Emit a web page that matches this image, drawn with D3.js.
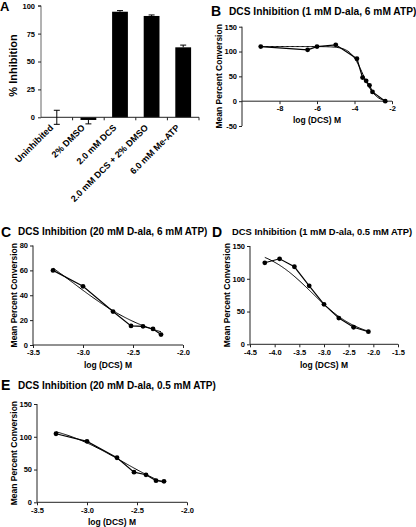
<!DOCTYPE html>
<html>
<head>
<meta charset="utf-8">
<script src="https://cdn.jsdelivr.net/npm/d3@7"></script>
<style>
  html, body { margin: 0; padding: 0; background: #fff; }
  svg { display: block; font-family: "Liberation Sans", Arial, Helvetica, sans-serif; }
  text { font-weight: bold; fill: #000; }
</style>
</head>
<body>
<svg id="chart" width="416" height="527"></svg>
<script>
// ---------- Panel A data ----------
const catsA = ["Uninhibited", "2% DMSO", "2.0 mM DCS", "2.0 mM DCS + 2% DMSO", "6.0 mM Me-ATP"];
const valsA = [0, -2.4, 94.6, 90.8, 62.7];
const errA  = [6.3, 3.5, 1.0, 0.9, 2.0];
const ticksA = [0, 25, 50, 75, 100];

// ---------- Panel B data (1 mM D-ala, 6 mM ATP) ----------
const logB  = [-9, -6.5, -6, -5, -3.87, -3.57, -3.38, -3.2, -3.04, -2.36];
const convB = [110, 103.5, 110, 113.5, 85.5, 47.5, 41, 32, 18.6, 0];
const fitB  = [110, -2, -3.55, 1.3];        // top, bottom, logIC50, hill
const xTicksB = [-8, -6, -4, -2];
const yTicksB = [-50, 0, 50, 100, 150];

// ---------- Panel C data (20 mM D-ala, 6 mM ATP) ----------
const logC  = [-3.30, -3.0, -2.70, -2.52, -2.40, -2.30, -2.22];
const convC = [60, 47.2, 26.9, 15.3, 15, 12.9, 8.4];
const fitC  = [100, 0, -3.1, 1.05];
const xTicksC = [-3.5, -3.0, -2.5, -2.0];
const yTicksC = [0, 20, 40, 60, 80];

// ---------- Panel D data (1 mM D-ala, 0.5 mM ATP) ----------
const logD  = [-4.2, -3.9, -3.6, -3.3, -3.0, -2.7, -2.4, -2.1];
const convD = [124.4, 130.5, 118.3, 89.3, 61, 40, 26, 19.2];
const fitD  = [150, 8, -3.25, 0.9];
const xTicksD = [-4.5, -4.0, -3.5, -3.0, -2.5, -2.0, -1.5];
const yTicksD = [0, 50, 100, 150];

// ---------- Panel E data (20 mM D-ala, 0.5 mM ATP) ----------
const logE  = [-3.31, -3.0, -2.70, -2.53, -2.41, -2.31, -2.23];
const convE = [104.6, 93, 68, 46, 42, 33, 32];
const fitE  = [125, 0, -2.65, 1.2];
const xTicksE = [-3.5, -3.0, -2.5, -2.0];
const yTicksE = [0, 50, 100, 150];

const svg = d3.select("#chart");
const AXIS = "#222";

function styleAxis(g) {
  g.selectAll("path.domain").attr("stroke", AXIS).attr("stroke-width", 1);
  g.selectAll(".tick line").attr("stroke", AXIS).attr("stroke-width", 1);
  g.selectAll(".tick text").attr("font-family", "'Liberation Sans', Arial, sans-serif")
    .attr("font-weight", "bold").attr("fill", "#000");
}

// ================= Panel A =================
(function () {
  const x = d3.scaleBand().domain(catsA).range([41, 199]).paddingInner(0.5).paddingOuter(0.25);
  const y = d3.scaleLinear().domain([0, 100]).range([117.3, 5.7]);

  svg.append("text").attr("x", 0).attr("y", 11).attr("font-size", 13).text("A");

  const gy = svg.append("g").attr("transform", "translate(41,0)")
    .call(d3.axisLeft(y).tickValues(ticksA).tickSize(3).tickPadding(3).tickFormat(d3.format("d")));
  styleAxis(gy);
  gy.selectAll(".tick text").attr("font-size", 7.5);
  gy.select("path.domain").attr("d", `M-3,${y(100)}H0V${y(0)}`).attr("stroke", "#666");

  // bars
  svg.append("g").selectAll("rect").data(catsA).join("rect")
    .attr("x", d => x(d))
    .attr("width", x.bandwidth())
    .attr("y", (d, i) => Math.min(y(valsA[i]), y(0)))
    .attr("height", (d, i) => Math.abs(y(valsA[i]) - y(0)))
    .attr("fill", "#000");

  // x axis at 0 with ticks at band boundaries
  const step = x.step();
  const x0 = 41, x1 = 199;
  svg.append("line").attr("x1", x0).attr("x2", x1).attr("y1", y(0)).attr("y2", y(0))
    .attr("stroke", AXIS).attr("stroke-width", 1);
  const bounds = catsA.map(c => x(c) + x.bandwidth() / 2 + step / 2);
  svg.append("g").selectAll("line").data(bounds).join("line")
    .attr("x1", d => d).attr("x2", d => d).attr("y1", y(0)).attr("y2", y(0) + 3)
    .attr("stroke", AXIS);

  // error bars
  const cap = 3;
  const eb = svg.append("g").attr("stroke", "#000").attr("stroke-width", 1);
  catsA.forEach((c, i) => {
    const cx = x(c) + x.bandwidth() / 2;
    const v = valsA[i], e = errA[i];
    let lo, hi;
    if (v === 0) { lo = v - e; hi = v + e; }
    else if (v > 0) { lo = v; hi = v + e; }
    else { lo = v - e; hi = v; }
    eb.append("line").attr("x1", cx).attr("x2", cx).attr("y1", y(lo)).attr("y2", y(hi));
    if (v >= 0) eb.append("line").attr("x1", cx - cap).attr("x2", cx + cap).attr("y1", y(hi)).attr("y2", y(hi));
    if (v <= 0) eb.append("line").attr("x1", cx - cap).attr("x2", cx + cap).attr("y1", y(lo)).attr("y2", y(lo));
  });

  // category labels
  svg.append("g").selectAll("text").data(catsA).join("text")
    .attr("font-size", 9)
    .attr("text-anchor", "end")
    .attr("transform", d => `translate(${x(d) + x.bandwidth() / 2 - 3},${y(0) + 11}) rotate(-45)`)
    .text(d => d);

  svg.append("text").attr("font-size", 11)
    .attr("text-anchor", "middle")
    .attr("transform", `translate(17,${(y(0) + y(100)) / 2 + 4}) rotate(-90)`)
    .text("% Inhibition");
})();

// ================= XY panels =================
function logistic(p, xv) {
  const [top, bottom, ic, hill] = p;
  return bottom + (top - bottom) / (1 + Math.pow(10, (xv - ic) * hill));
}

function xyPanel(o) {
  const x = d3.scaleLinear().domain(o.xDom).range(o.xRange);
  const y = d3.scaleLinear().domain(o.yDom).range(o.yRange);
  const fmtX = o.xFmt;

  svg.append("text").attr("x", o.letter[1]).attr("y", o.letter[2]).attr("font-size", 14).text(o.letter[0]);
  svg.append("text").attr("x", o.title[1]).attr("y", o.title[2]).attr("font-size", o.titleSize || 10).text(o.title[0]);

  const gy = svg.append("g").attr("transform", `translate(${o.xRange[0]},0)`)
    .call(d3.axisLeft(y).tickValues(o.yTicks).tickSize(3).tickPadding(2).tickFormat(d => String(d)));
  styleAxis(gy);
  gy.selectAll(".tick text").attr("font-size", 7.5);
  gy.select("path.domain").attr("d", `M0,${o.yRange[1]}V${o.yRange[0]}`);

  const axisY = y(0);
  const gx = svg.append("g").attr("transform", `translate(0,${axisY})`)
    .call(d3.axisBottom(x).tickValues(o.xTicks).tickSize(3).tickPadding(2).tickFormat(fmtX));
  styleAxis(gx);
  gx.selectAll(".tick text").attr("font-size", 7.5);
  gx.select("path.domain").attr("d", `M${o.xRange[0]},0H${o.xRange[1]}`);

  svg.append("text").attr("font-size", 8.5).attr("text-anchor", "middle")
    .attr("transform", `translate(${o.yTitleX},${(o.yRange[0] + o.yRange[1]) / 2}) rotate(-90)`)
    .text("Mean Percent Conversion");
  svg.append("text").attr("font-size", 8.5).attr("text-anchor", "middle")
    .attr("x", (o.xRange[0] + o.xRange[1]) / 2).attr("y", o.xLabelY)
    .text("log (DCS) M");

  // fitted curve
  const xmin = d3.min(o.xs), xmax = d3.max(o.xs);
  const fitPts = d3.range(0, 101).map(k => {
    const xv = xmin + (xmax - xmin) * k / 100;
    return [xv, logistic(o.fit, xv)];
  });
  svg.append("path").datum(fitPts)
    .attr("fill", "none").attr("stroke", "#000").attr("stroke-width", 1)
    .attr("d", d3.line().x(d => x(d[0])).y(d => y(d[1])));

  // data line
  const pts = o.xs.map((v, i) => [v, o.ys[i]]);
  svg.append("path").datum(pts)
    .attr("fill", "none").attr("stroke", "#000").attr("stroke-width", 1.2)
    .attr("d", d3.line().x(d => x(d[0])).y(d => y(d[1])));
  svg.append("g").selectAll("circle").data(pts).join("circle")
    .attr("cx", d => x(d[0])).attr("cy", d => y(d[1])).attr("r", 2.4).attr("fill", "#000");
}

const fmt1 = d => d.toFixed(1);
const fmt0 = d => d.toFixed(0);

xyPanel({
  letter: ["B", 211, 16], title: ["DCS Inhibition (1 mM D-ala, 6 mM ATP)", 229, 15], titleSize: 10.2,
  xDom: [-10, -2], xRange: [242, 392], yDom: [-50, 150], yRange: [126, 26.7],
  xTicks: xTicksB, yTicks: yTicksB, xFmt: fmt0,
  xs: logB, ys: convB, fit: fitB, yTitleX: 222, xLabelY: 123
});
xyPanel({
  letter: ["C", 1, 237], title: ["DCS Inhibition (20 mM D-ala, 6 mM ATP)", 18, 235],
  xDom: [-3.5, -2.0], xRange: [33, 183], yDom: [0, 80], yRange: [345, 245.5],
  xTicks: xTicksC, yTicks: yTicksC, xFmt: fmt1,
  xs: logC, ys: convC, fit: fitC, yTitleX: 17, xLabelY: 368
});
xyPanel({
  letter: ["D", 212, 237], title: ["DCS Inhibition (1 mM D-ala, 0.5 mM ATP)", 232, 235], titleSize: 9.4,
  xDom: [-4.5, -1.5], xRange: [250, 398], yDom: [0, 150], yRange: [344.3, 246],
  xTicks: xTicksD, yTicks: yTicksD, xFmt: fmt1,
  xs: logD, ys: convD, fit: fitD, yTitleX: 230, xLabelY: 368
});
xyPanel({
  letter: ["E", 1, 390], title: ["DCS Inhibition (20 mM D-ala, 0.5 mM ATP)", 18, 389],
  xDom: [-3.5, -2.0], xRange: [37, 187], yDom: [0, 150], yRange: [502.3, 404],
  xTicks: xTicksE, yTicks: yTicksE, xFmt: fmt1,
  xs: logE, ys: convE, fit: fitE, yTitleX: 17, xLabelY: 525
});
</script>
</body>
</html>
